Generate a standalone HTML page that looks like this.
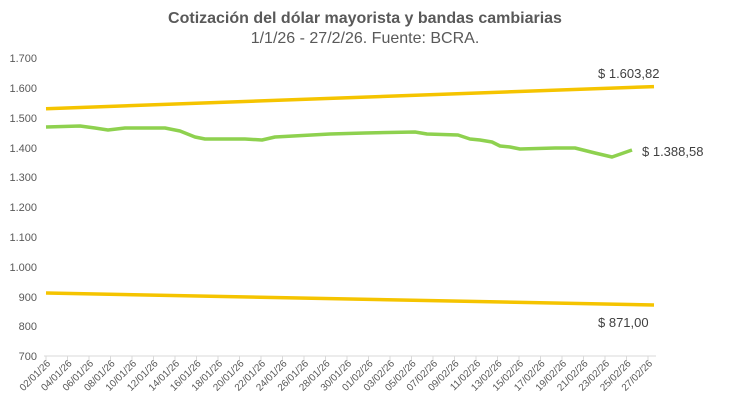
<!DOCTYPE html>
<html><head><meta charset="utf-8"><style>
body{margin:0;background:#fff;}
svg{display:block;font-family:"Liberation Sans",sans-serif;}
</style></head><body>
<svg width="730" height="405" viewBox="0 0 730 405">
<text x="365" y="23" text-anchor="middle" font-size="16" font-weight="bold" fill="#595959">Cotización del dólar mayorista y bandas cambiarias</text>
<text x="365" y="43" text-anchor="middle" font-size="16" fill="#595959">1/1/26 - 27/2/26. Fuente: BCRA.</text>
<g font-size="11" fill="#595959" text-anchor="end">
<text x="37" y="62">1.700</text><text x="37" y="92">1.600</text><text x="37" y="122">1.500</text><text x="37" y="152">1.400</text><text x="37" y="181">1.300</text><text x="37" y="211">1.200</text><text x="37" y="241">1.100</text><text x="37" y="271">1.000</text><text x="37" y="301">900</text><text x="37" y="330">800</text><text x="37" y="360">700</text>
</g>
<line x1="44" y1="356" x2="656" y2="356" stroke="#d9d9d9" stroke-width="1"/>
<g id="ticks" stroke="#d9d9d9"></g>
<g id="lbl" font-size="10" fill="#595959" text-anchor="end"></g>
<polyline points="46,108.7 654,86.6" fill="none" stroke="#f5c400" stroke-width="3.5"/>
<polyline points="46,293 654,305" fill="none" stroke="#f5c400" stroke-width="3.5"/>
<polyline points="46,127 80,126 95,128 108,130 125,128 165,128 180,131 195,137 205,139 245,139 262,140 275,137 330,134 365,133 415,132 427,134 458,135 470,139 480,140 492,142 500,146 510,147 520,149 555,148 575,148 595,153 612,157 632,150" fill="none" stroke="#8ed14f" stroke-width="3.5" stroke-linejoin="round"/>
<g font-size="13" fill="#404040">
<text x="598" y="78">$ 1.603,82</text>
<text x="642" y="156">$ 1.388,58</text>
<text x="598" y="327">$ 871,00</text>
</g>
</svg>
<script>
var d=["02/01/26","04/01/26","06/01/26","08/01/26","10/01/26","12/01/26","14/01/26","16/01/26","18/01/26","20/01/26","22/01/26","24/01/26","26/01/26","28/01/26","30/01/26","01/02/26","03/02/26","05/02/26","07/02/26","09/02/26","11/02/26","13/02/26","15/02/26","17/02/26","19/02/26","21/02/26","23/02/26","25/02/26","27/02/26"];
var ns="http://www.w3.org/2000/svg",L=document.getElementById("lbl"),T=document.getElementById("ticks");
for(var i=0;i<d.length;i++){var x=46+i*21.5;
var l=document.createElementNS(ns,"line");l.setAttribute("x1",x);l.setAttribute("x2",x);l.setAttribute("y1",356);l.setAttribute("y2",360);T.appendChild(l);
var t=document.createElementNS(ns,"text");t.setAttribute("transform","translate("+(x+5)+",364) rotate(-45)");t.textContent=d[i];L.appendChild(t);}
</script>
</body></html>
